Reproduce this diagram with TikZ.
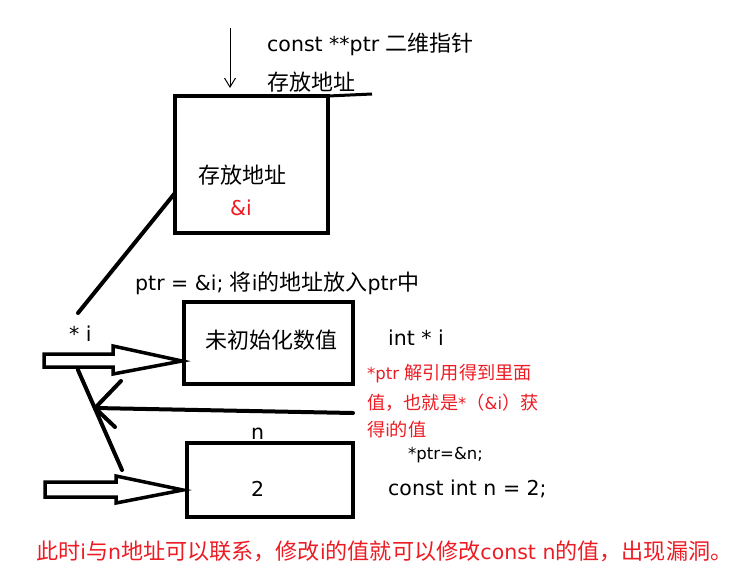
\documentclass[tikz,border=0pt]{standalone}
\usepackage{fontspec}
\setmainfont{DejaVu Sans}
\newfontfamily\cjkfont{Noto Sans CJK SC}
\newcommand\cjkbig[1]{{\cjkfont\fontsize{22}{25}\selectfont #1}}
\newcommand\cjkbot[1]{{\cjkfont\fontsize{22.1}{25}\selectfont #1}}
\newcommand\cjkred[1]{{\cjkfont\fontsize{18.2}{20}\selectfont #1}}
\usetikzlibrary{arrows.meta,calc}
\definecolor{pred}{RGB}{237,28,36}
\begin{document}
\begin{tikzpicture}[x=1pt,y=-1pt,
  box/.style={draw,line width=4pt,inner sep=0pt,outer sep=0pt},
  lbl/.style={inner sep=0pt,anchor=west,font=\fontsize{20.5}{25}\selectfont},
  rlbl/.style={inner sep=0pt,anchor=west,text=pred,font=\fontsize{16.5}{20}\selectfont},
  slbl/.style={inner sep=0pt,anchor=west,font=\fontsize{16.5}{18}\selectfont},
  thickline/.style={line width=4pt,line cap=round},
  hollow/.style={draw,fill=white,line width=3.5pt,line join=miter}]
\fill[white] (0,0) rectangle (738,573);
\useasboundingbox (0,0) rectangle (738,573);

% boxes
\node[box,minimum width=153pt,minimum height=137pt] (b1) at (251.5,164.5) {};
\node[box,minimum width=169pt,minimum height=82pt] (b2) at (268.5,343) {};
\node[box,minimum width=166pt,minimum height=74pt] (b3) at (270,480) {};

% texts
\node[lbl] (t1) at (267,44) {const **ptr \cjkbig{二维指针}};
\node[lbl] (t2) at (267,82) {\cjkbig{存放地址}};
\node[lbl] (t3) at (198,175) {\cjkbig{存放地址}};
\node[lbl,text=pred] (t4) at (230,208) {\&i};
\node[lbl] (t5) at (135,283) {ptr = \&i; \cjkbig{将}i\cjkbig{的地址放入}ptr\cjkbig{中}};
\node[lbl] (t6) at (69,334) {* i};
\node[lbl] (t7) at (205,340) {\cjkbig{未初始化数值}};
\node[lbl] (t8) at (388,338) {int * i};
\node[rlbl] (r1) at (367,374) {*ptr \cjkred{解引用得到里面}};
\node[rlbl] (r2) at (367,403) {\cjkred{值，也就是}*\cjkred{（}\&i\cjkred{）获}};
\node[rlbl] (r3) at (367,430) {\cjkred{得}i\cjkred{的值}};
\node[lbl] (t9) at (251,434) {n};
\node[lbl] (t10) at (251,489) {2};
\node[slbl] (t11) at (408,455) {*ptr=\&n;};
\node[lbl] (t12) at (388,489) {const int n = 2;};
\node[lbl,text=pred] (t13) at (36,551) {\cjkbot{此时}i\cjkbot{与}n\cjkbot{地址可以联系，修改}i\cjkbot{的值就可以修改}const n\cjkbot{的值，出现漏洞。}};

% coordinates
\coordinate (v1) at (230,28);
\coordinate (v2) at (230,88);
\coordinate (e1) at (372,94);
\coordinate (d1) at (78,313);
\coordinate (d2) at ($(b1.north west)+(0,97)$);
\coordinate (x1) at (78,370);
\coordinate (x2) at (122,470);
\coordinate (c1) at ($(b2.south east)+(0,29)$);
\coordinate (c2) at (95,408);
\coordinate (h1) at ($(b2.west |- 0,361)+(-2,0)$);
\coordinate (h2) at ($(b3.west |- 0,490)+(-4,0)$);

% connectors
\draw[line width=1pt,-{Straight Barb[length=9pt,width=11pt]}] (v1) -- (v2);
\draw[line width=3pt] (b1.north east) -- (e1);
\draw[thickline] (d1) -- (d2);
\draw[thickline] (x1) -- (x2);
\draw[thickline] (c1) -- (c2);
\draw[thickline] (c2) -- ++(26,-27);
\draw[thickline] (c2) -- ++(20,19);
\draw[hollow] (h1) -- ++(-69,-15) -- ++(0,8) -- ++(-69,0) -- ++(0,13) -- ++(69,0) -- ++(0,7) -- cycle;
\draw[hollow] (h2) -- ++(-67,-14) -- ++(0,6) -- ++(-71,0) -- ++(0,15) -- ++(71,0) -- ++(0,6) -- cycle;
\end{tikzpicture}
\end{document}
